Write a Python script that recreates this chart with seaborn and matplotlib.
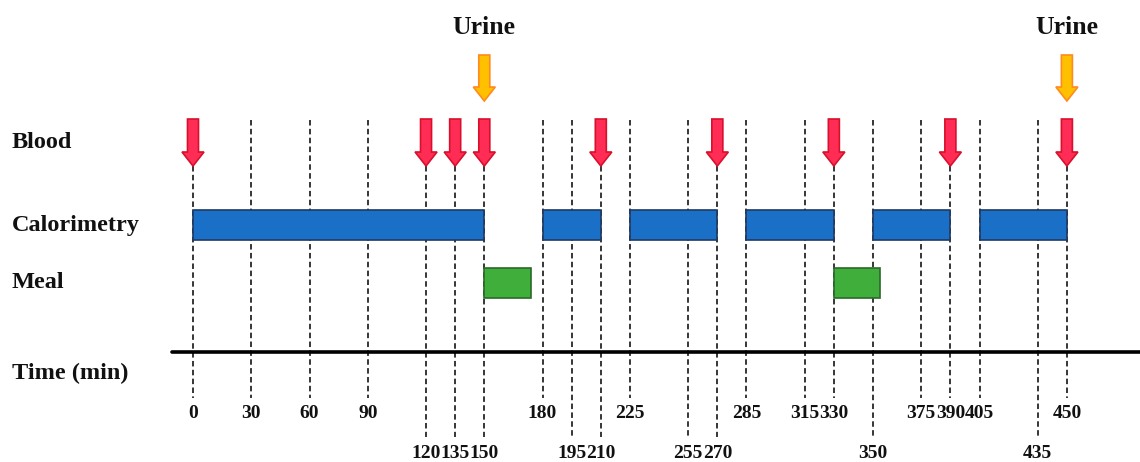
import numpy as np
import pandas as pd
import matplotlib
matplotlib.use('Agg')
import matplotlib.pyplot as plt
from matplotlib.patches import FancyArrow
import seaborn as sns

# sampling schedule (minutes)
times = [0, 30, 60, 90, 120, 135, 150, 180, 195, 210, 225, 255, 270,
         285, 315, 330, 350, 375, 390, 405, 435, 450]
long_label_times = [120, 135, 150, 195, 210, 255, 270, 350, 435]
blood_times = [0, 120, 135, 150, 210, 270, 330, 390, 450]
urine_times = [150, 450]
calorimetry_start = [0, 180, 225, 285, 350, 405]
calorimetry_end = [150, 210, 270, 330, 390, 450]
meal_start = [150, 330]
meal_end = [174, 354]
row_labels = ['Blood', 'Calorimetry', 'Meal', 'Time (min)']

sns.set_theme(style='white')
plt.rcParams['font.family'] = ['Liberation Serif', 'DejaVu Serif']

fig = plt.figure(figsize=(11.4, 4.62), dpi=100)
ax = fig.add_axes([0, 0, 1, 1])
px = 1.942  # pixels per minute
ax.set_xlim(-193 / px, (1140 - 193) / px)
ax.set_ylim(462, 0)
ax.axis('off')

# row layout (pixel rows)
y_blood_top, y_blood_tip = 119, 166
y_urine_top, y_urine_tip = 55, 101
y_cal, y_meal = 225, 283
y_axis = 352
y_short_end, y_long_end = 398, 437
y_short_lab, y_long_lab = 413, 453

dash = (0, (3.6, 2.2))
for t in times:
    top = y_blood_tip if t in blood_times else 120
    bottom = y_long_end if t in long_label_times else y_short_end
    ax.vlines(t, top, bottom, colors='black', lw=1.1, linestyles=dash, zorder=1)
    ylab = y_long_lab if t in long_label_times else y_short_lab
    ax.text(t, ylab, str(t), ha='center', va='center', fontsize=14,
            fontweight='bold', color='#111111')

# calorimetry and meal periods
cal = pd.DataFrame({'start': calorimetry_start, 'end': calorimetry_end})
meal = pd.DataFrame({'start': meal_start, 'end': meal_end})
ax.barh(y_cal, cal['end'] - cal['start'], left=cal['start'], height=30,
        color='#1a6fc6', edgecolor='#1f3a64', lw=1.2, zorder=3)
ax.barh(y_meal, meal['end'] - meal['start'], left=meal['start'], height=30,
        color='#3fae3a', edgecolor='#2a6a2a', lw=1.2, zorder=3)

# time axis
ax.axhline(y_axis, xmin=172 / 1140, xmax=1, color='black', lw=2.6, zorder=4)


def down_arrow(t, top, tip, face, edge):
    length = tip - top
    ax.add_patch(FancyArrow(t, top, 0, length, width=11 / px, head_width=22 / px,
                            head_length=14, length_includes_head=True,
                            facecolor=face, edgecolor=edge, lw=1.2, zorder=5))


for t in blood_times:
    down_arrow(t, y_blood_top, y_blood_tip, '#ff2d55', '#d8102c')
for t in urine_times:
    down_arrow(t, y_urine_top, y_urine_tip, '#ffc000', '#ff8a1e')
    ax.text(t, 28, 'Urine', ha='center', va='center', fontsize=18.5,
            fontweight='bold', color='#111111')

label_y = [143, 225, 283, 373]
for lab, yy in zip(row_labels, label_y):
    ax.text(-181 / px, yy, lab, ha='left', va='center', fontsize=17.5,
            fontweight='bold', color='#111111')

fig.savefig('out.png', dpi=100)
